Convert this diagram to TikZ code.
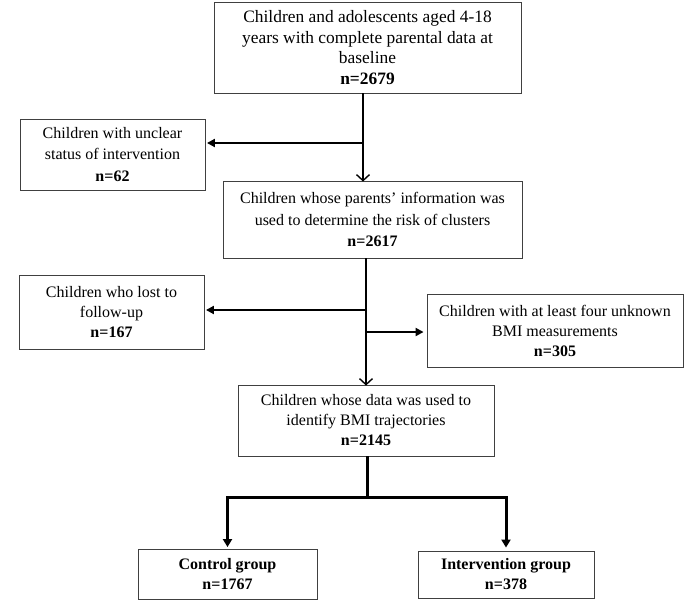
\documentclass[tikz,border=0pt]{standalone}
\usepackage{fontspec}
\setmainfont{Liberation Serif}
\usetikzlibrary{arrows.meta}
\begin{document}
\begin{tikzpicture}[x=1pt,y=-1pt,
  box/.style={draw=black!75,line width=0.9pt,align=center,inner sep=2pt,
    font=\fontsize{16}{20}\selectfont},
  bigbox/.style={box,font=\fontsize{17.4}{20.5}\selectfont},
  widebox/.style={box,font=\fontsize{16}{21.5}\selectfont},
  spine/.style={line width=2.6pt,-{Straight Barb[length=6pt,width=13pt,line width=1.4pt]}},
  side/.style={line width=2.2pt,-{Triangle[length=8pt,width=8pt]}},
  plain/.style={line width=3pt},
  drop/.style={line width=3pt,line join=miter,-{Triangle[length=8pt,width=9pt]}}]
\useasboundingbox (0,0) rectangle (685,614);
\node[bigbox,minimum width=307pt,minimum height=91pt] (b1) at (367.5,47.5)
  {Children and adolescents aged 4-18\\years with complete parental data at\\baseline\\\textbf{n=2679}};
\node[widebox,minimum width=185pt,minimum height=71pt] (u) at (112.5,154.5)
  {Children with unclear\\status of intervention\\\textbf{n=62}};
\node[widebox,minimum width=299pt,minimum height=77pt] (b2) at (372.5,219.5)
  {Children whose parents' information was\\used to determine the risk of clusters\\\textbf{n=2617}};
\node[box,minimum width=185pt,minimum height=74pt] (l) at (111.5,312)
  {Children who lost to\\follow-up\\\textbf{n=167}};
\node[box,minimum width=256pt,minimum height=73pt] (r) at (555,330.5)
  {Children with at least four unknown\\BMI measurements\\\textbf{n=305}};
\node[box,minimum width=256pt,minimum height=71pt] (b3) at (366,420.5)
  {Children whose data was used to\\identify BMI trajectories\\\textbf{n=2145}};
\node[box,minimum width=179pt,minimum height=50pt] (c) at (227.5,574)
  {\textbf{Control group}\\\textbf{n=1767}};
\node[box,minimum width=176pt,minimum height=47pt] (i) at (506,574.5)
  {\textbf{Intervention group}\\\textbf{n=378}};
\coordinate (j1) at (363,143);
\coordinate (j2) at (366,310);
\coordinate (j3) at (366,332);
\coordinate (j4) at (367,497);
\draw[spine] (b1.south -| j1) -- ([yshift=-1pt]b2.north -| j1);
\draw[side,shorten >=1.5pt] (j1) -- (u.east |- j1);
\draw[spine] (b2.south -| j2) -- ([yshift=-1pt]b3.north -| j2);
\draw[side,shorten >=1.5pt] ([xshift=1pt]j2) -- (l.east |- j2);
\draw[side,shorten >=3pt] ([xshift=-1pt]j3) -- (r.west |- j3);
\draw[plain] (b3.south -| j4) -- (j4);
\draw[drop,shorten >=1.5pt] ([xshift=1pt]j4) -| (c.north);
\draw[drop,shorten >=3pt] ([xshift=-1pt]j4) -| (i.north);
\end{tikzpicture}
\end{document}
